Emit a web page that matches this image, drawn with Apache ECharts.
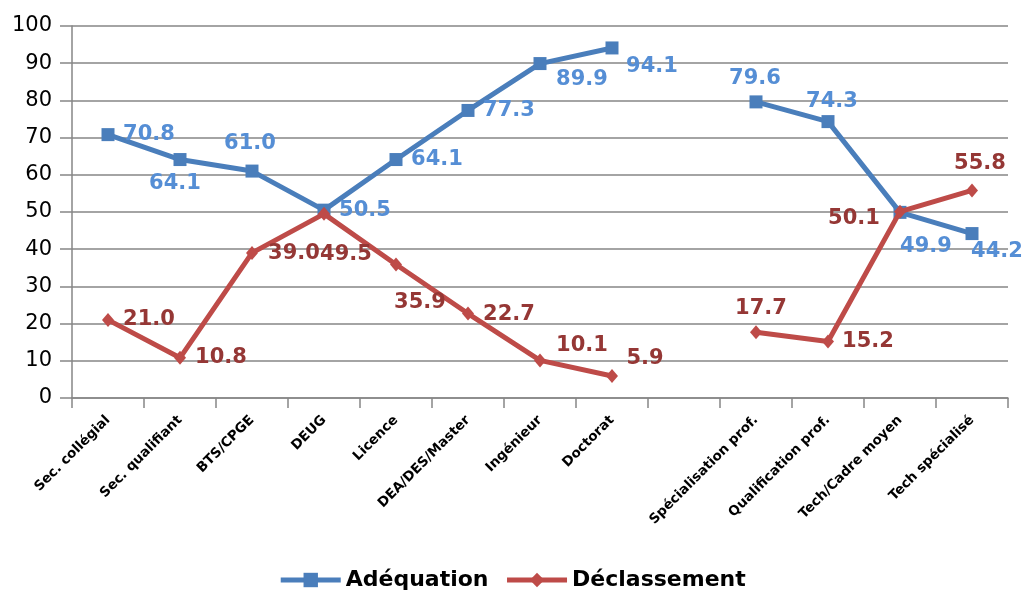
<!DOCTYPE html>
<html>
<head>
<meta charset="utf-8">
<script src="https://cdn.jsdelivr.net/npm/echarts@6/dist/echarts.min.js"></script>
<style>
html,body{margin:0;padding:0;background:#fff;}
#chart{width:1024px;height:590px;}
</style>
</head>
<body>
<div id="chart"></div>
<script>
var categories = ['Sec. collégial','Sec. qualifiant','BTS/CPGE','DEUG','Licence','DEA/DES/Master','Ingénieur','Doctorat','','Spécialisation prof.','Qualification prof.','Tech/Cadre moyen','Tech spécialisé'];
var adequation = [70.8, 64.1, 61.0, 50.5, 64.1, 77.3, 89.9, 94.1, null, 79.6, 74.3, 49.9, 44.2];
var declassement = [21.0, 10.8, 39.0, 49.5, 35.9, 22.7, 10.1, 5.9, null, 17.7, 15.2, 50.1, 55.8];
var yTicks = [0, 10, 20, 30, 40, 50, 60, 70, 80, 90, 100];

// label offsets (pixels, relative to point)
var adeqOffsets = [[41,0],[-5,24],[-2,-28],[41,0],[41,0],[41,0],[42,16],[40,19],null,[-1,-23],[4,-20],[26,34],[25,18]];
var declOffsets = [[41,0],[41,0],[42,1],[22,41],[24,38],[41,1],[42,-15],[33,-18],null,[5,-24],[40,0],[-46,7],[8,-27]];

function build(vals, offs, color) {
  return vals.map(function (v, i) {
    if (v === null) return null;
    return {
      value: v,
      label: {
        show: true,
        position: 'inside',
        offset: offs[i],
        formatter: function (p) { return p.value.toFixed(1); },
        color: color,
        fontFamily: 'DejaVu Sans',
        fontWeight: 'bold',
        fontSize: 21
      }
    };
  });
}

var chart = echarts.init(document.getElementById('chart'));
chart.setOption({
  animation: false,
  backgroundColor: '#ffffff',
  grid: { left: 72, right: 16, top: 26, bottom: 192 },
  legend: {
    bottom: -6,
    left: 'center',
    itemWidth: 60,
    itemHeight: 18,
    itemGap: 16,
    lineStyle: { width: 5 },
    textStyle: { fontFamily: 'DejaVu Sans', fontWeight: 'bold', fontSize: 22, color: '#000' },
    data: ['Adéquation', 'Déclassement']
  },
  xAxis: {
    type: 'category',
    data: categories,
    boundaryGap: true,
    axisLine: { lineStyle: { color: '#868686', width: 1.5 } },
    axisTick: { show: true, length: 10, lineStyle: { color: '#868686', width: 1.5 } },
    axisLabel: {
      interval: 0,
      rotate: 45,
      margin: 20,
      color: '#000',
      fontFamily: 'DejaVu Sans',
      fontWeight: 'bold',
      fontSize: 13.5
    },
    splitLine: { show: false }
  },
  yAxis: {
    type: 'value',
    min: yTicks[0],
    max: yTicks[yTicks.length - 1],
    interval: 10,
    axisLine: { show: true, lineStyle: { color: '#868686', width: 1.5 } },
    axisTick: { show: true, length: 12, lineStyle: { color: '#868686', width: 1.5 } },
    axisLabel: { color: '#000', fontFamily: 'DejaVu Sans', fontSize: 21, margin: 20 },
    splitLine: { show: true, lineStyle: { color: '#868686', width: 1.5 } }
  },
  series: [
    {
      name: 'Adéquation',
      type: 'line',
      data: build(adequation, adeqOffsets, '#558ED5'),
      connectNulls: false,
      symbol: 'rect',
      symbolSize: 13,
      itemStyle: { color: '#4A7EBB' },
      lineStyle: { color: '#4A7EBB', width: 5 },
      z: 2
    },
    {
      name: 'Déclassement',
      type: 'line',
      data: build(declassement, declOffsets, '#953735'),
      connectNulls: false,
      symbol: 'diamond',
      symbolSize: [12, 14],
      itemStyle: { color: '#BE4B48' },
      lineStyle: { color: '#BE4B48', width: 5 },
      z: 3
    }
  ]
});
</script>
</body>
</html>
